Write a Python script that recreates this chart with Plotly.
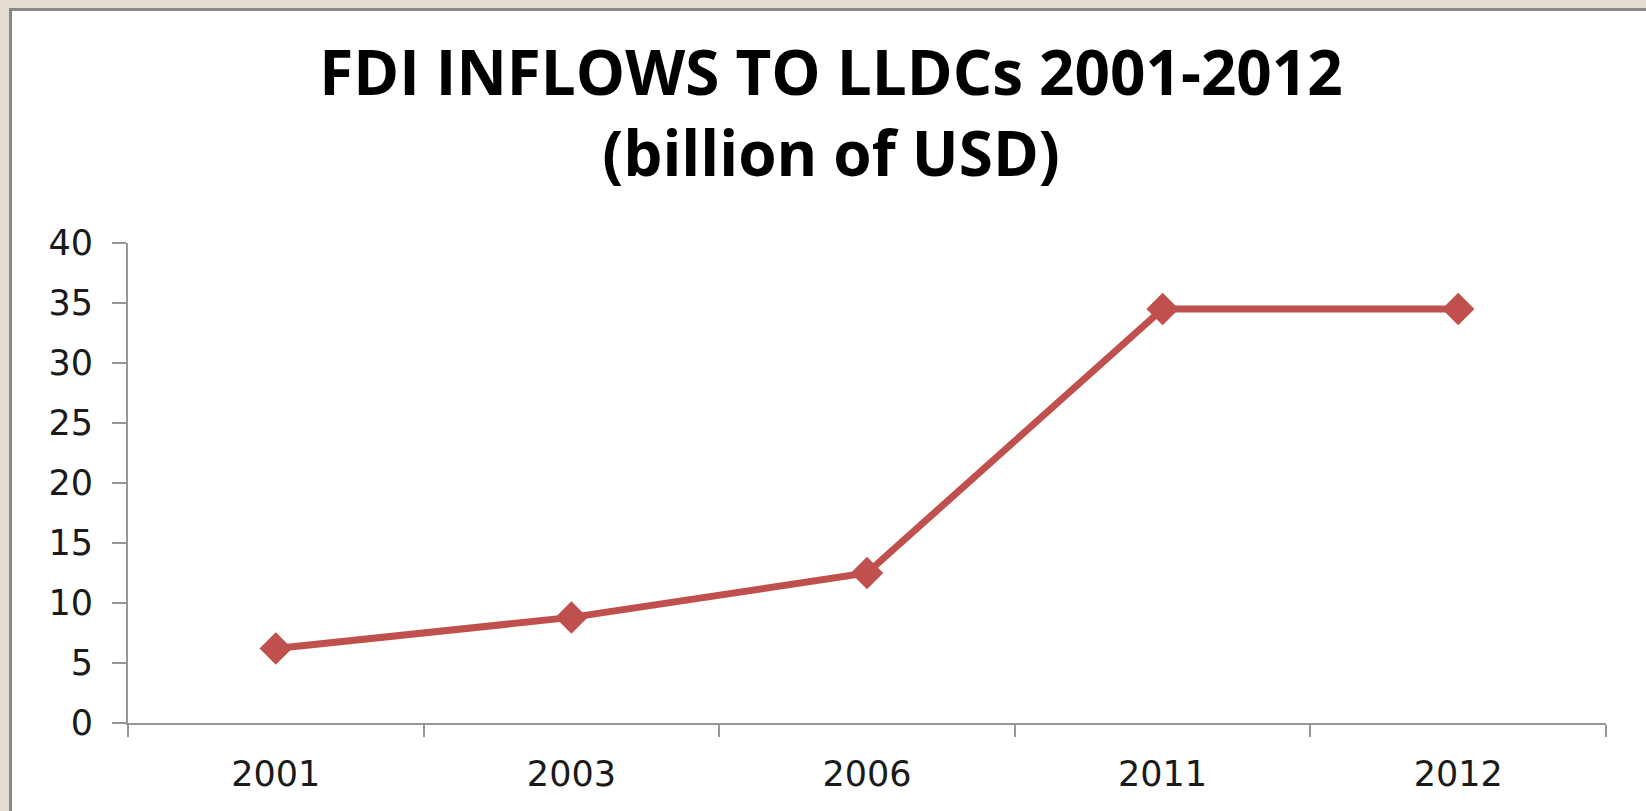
import plotly.graph_objects as go

# FDI inflows to landlocked developing countries, billion USD
years = ["2001", "2003", "2006", "2011", "2012"]
fdi_inflows = [6.2, 8.8, 12.5, 34.5, 34.5]
y_ticks = [0, 5, 10, 15, 20, 25, 30, 35, 40]

W, H = 1646, 811
L, R, T, B = 128, 40, 243, 88
pw, ph = W - L - R, H - T - B

def px_x(p):
    return (p - L) / pw

def px_y(p):
    return (H - B - p) / ph

fig = go.Figure()
fig.add_trace(go.Scatter(
    x=years, y=fdi_inflows, mode="lines+markers",
    line=dict(color="#C0504D", width=7),
    marker=dict(symbol="diamond", size=25, color="#C0504D"),
    showlegend=False, hoverinfo="x+y",
))

# slide frame: beige surround with a grey border line
fig.add_shape(type="rect", xref="paper", yref="paper",
              x0=px_x(10.5), x1=px_x(W + 50), y0=px_y(9.5), y1=px_y(H + 50),
              fillcolor="white", line=dict(color="#888888", width=3), layer="below")

fig.update_layout(
    width=W, height=H,
    margin=dict(l=L, r=R, t=T, b=B),
    paper_bgcolor="#E4DDD2", plot_bgcolor="rgba(0,0,0,0)",
    title=dict(
        text="<b>FDI INFLOWS TO LLDCs 2001-2012<br>(billion of USD)</b>",
        font=dict(family="Open Sans", size=62, color="black"),
        x=831 / W, xanchor="center", xref="container",
        y=1 - 95 / H, yanchor="top", yref="container",
    ),
    xaxis=dict(
        type="category", range=[-0.5, 4.5],
        showline=True, linecolor="#969696", linewidth=2,
        ticks="outside", ticklen=12, tickcolor="#969696", tickwidth=2,
        tickson="boundaries", showgrid=False, zeroline=False,
        tickfont=dict(family="DejaVu Sans", size=35, color="#1a1a1a"),
        ticklabelstandoff=19,
    ),
    yaxis=dict(
        range=[0, 40], tickvals=y_ticks,
        showline=True, linecolor="#969696", linewidth=2,
        ticks="outside", ticklen=14, tickcolor="#969696", tickwidth=2,
        showgrid=False, zeroline=False,
        tickfont=dict(family="DejaVu Sans", size=35, color="#1a1a1a"),
        ticklabelstandoff=12,
    ),
)

fig.write_html("out.html")
